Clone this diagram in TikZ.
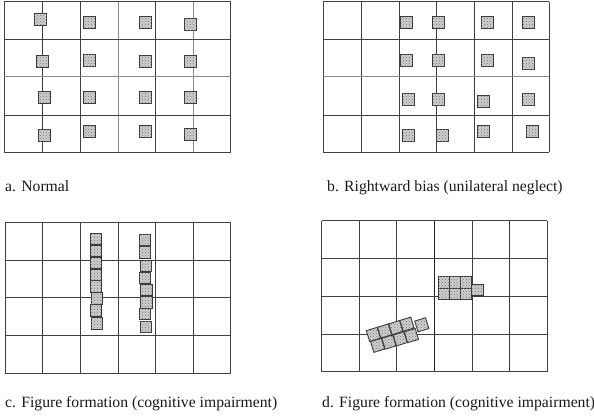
\documentclass[tikz,border=0pt]{standalone}
\usepackage{fontspec}
\setmainfont{Liberation Serif}
\usetikzlibrary{patterns}
\begin{document}
\begin{tikzpicture}[x=1pt,y=-1pt,
  gline/.style={draw=black!75, line width=1pt},
  lline/.style={draw=black!45, line width=1pt},
  sq/.style={draw=black!78, line width=0.9pt, fill=gray!38, minimum size=12pt, inner sep=0pt,
    postaction={pattern=crosshatch dots, pattern color=black!55}},
  sqs/.style={sq, minimum size=11.3pt},
  captext/.style={anchor=base west, inner sep=0pt, text=black!90, font=\fontsize{15.7}{18}\selectfont}]
\useasboundingbox (0,0) rectangle (594,416);

% ---------- panel a grid ----------
\foreach \x in {4,42.3,80,155.7,230.7} \draw[gline] (\x,1.7) -- (\x,152.3);
\foreach \x in {118.3,193} \draw[lline] (\x,1.7) -- (\x,152.3);
\foreach \y in {1.7,39.3,115,152.3} \draw[gline] (4,\y) -- (230.7,\y);
\draw[lline] (4,76.7) -- (230.7,76.7);

% ---------- panel b grid ----------
\foreach \x in {323.3,361,399,436.7,474,512,549.3} \draw[gline] (\x,1.7) -- (\x,152.3);
\foreach \y in {1.7,39.3,115,152.3} \draw[gline] (323.3,\y) -- (549.3,\y);
\draw[lline] (323.3,76.7) -- (549.3,76.7);

% ---------- panel c grid ----------
\foreach \x in {5,42.3,80,118,155.7,193.3,230.7} \draw[gline] (\x,222.3) -- (\x,373);
\foreach \y in {222.3,260,297.7,335.7,373} \draw[gline] (5,\y) -- (230.7,\y);

% ---------- panel d grid ----------
\foreach \x in {321.7,359.3,396.7,472,509.3,547} \draw[gline] (\x,220.7) -- (\x,371.7);
\draw[gline, draw=black!88] (434.3,220.7) -- (434.3,371.7);
\foreach \y in {220.7,258.3,296,334,371.7} \draw[gline] (321.7,\y) -- (547,\y);

% ---------- panel a squares ----------
\foreach \x/\y [count=\i] in {40.7/19, 42.7/61.7, 44.7/97.7, 44.7/135,
  89.7/22, 89.3/60, 89.5/97.7, 89.8/131.7,
  145.7/22.3, 145.7/61.7, 145.7/97.8, 145.7/131,
  190.7/24.7, 190.7/61.7, 190.7/97.8, 190.7/134.3}
  \node[sq] (a\i) at (\x,\y) {};

% ---------- panel b squares ----------
\foreach \x/\y [count=\i] in {406.7/22.3, 406.7/60, 408.3/99.3, 408.3/135,
  438.7/22.3, 438.7/60, 438.7/99.3, 442.7/135,
  487.3/22.3, 487.3/60, 483.3/101, 483.3/131.7,
  528.3/22.3, 528.3/63.3, 528.3/99.3, 532.3/131.7}
  \node[sq] (b\i) at (\x,\y) {};

% ---------- panel c squares ----------
\foreach \x/\y [count=\i] in {95.7/239, 95.7/251, 95.7/263, 95.7/274.7,
  95.7/286.3, 96.7/298.3, 95.7/310.3, 96.7/323.3}
  \node[sqs] (cl\i) at (\x,\y) {};
\foreach \x/\y [count=\i] in {145/240, 145/252.3, 145.8/265.7, 145/277.7,
  146.5/290, 146.5/302.3, 145/314, 145.8/326.7}
  \node[sqs] (cr\i) at (\x,\y) {};

% ---------- panel d squares ----------
\foreach \x/\y [count=\i] in {443.9/282.5, 455/282.5, 466.1/282.5,
  443.9/293.6, 455/293.6, 466.1/293.6, 477.4/290.2}
  \node[sqs] (du\i) at (\x,\y) {};
\foreach \x/\y [count=\i] in {373.4/334.4, 384.6/331, 395.8/327.6, 407/324.2, 421.8/324.8}
  \node[sqs, rotate=17] (dt\i) at (\x,\y) {};
\foreach \x/\y [count=\i] in {377.6/345.3, 388.9/342.1, 400.2/338.8, 411.4/335.6}
  \node[sqs, rotate=17] (db\i) at (\x,\y) {};

% ---------- captions ----------
\node[captext] (capa) at (5,191) {a. Normal};
\node[captext] (capb) at (327,191) {b. Rightward bias (unilateral neglect)};
\node[captext] (capc) at (5,407.5) {c. Figure formation (cognitive impairment)};
\node[captext] (capd) at (322,407.5) {d. Figure formation (cognitive impairment)};
\end{tikzpicture}
\end{document}
